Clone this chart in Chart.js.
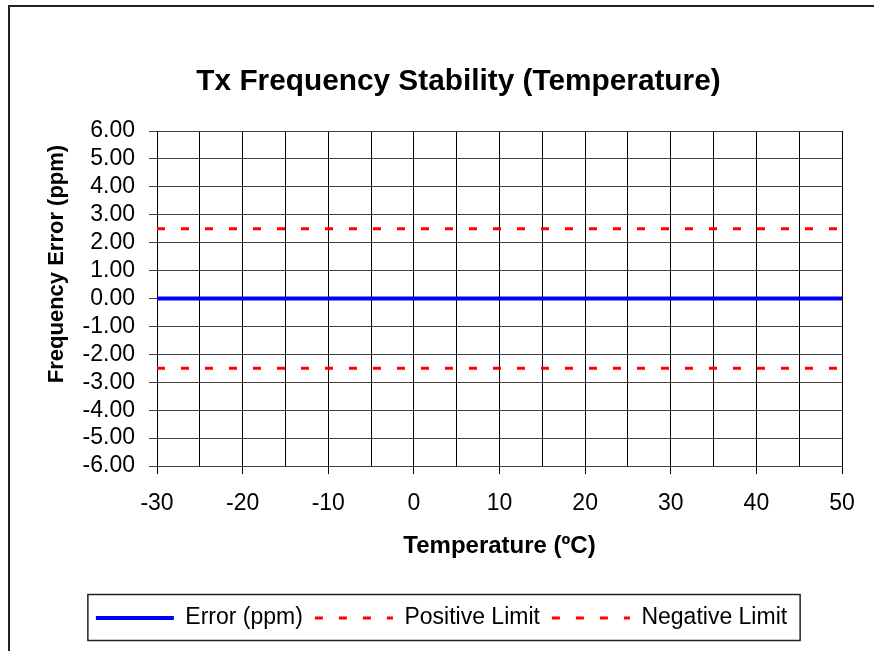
<!DOCTYPE html>
<html>
<head>
<meta charset="utf-8">
<script src="https://cdn.jsdelivr.net/npm/chart.js@4/dist/chart.umd.min.js"></script>
<style>
  html, body { margin: 0; padding: 0; background: #fff; }
  #wrap { width: 874px; height: 651px; }
</style>
</head>
<body>
<div id="wrap"><canvas id="c" width="874" height="651"></canvas></div>
<script>
// Tx frequency stability vs temperature — flat error trace between +/- limits.

const TEMPS = [-30, -20, -10, 0, 10, 20, 30, 40, 50];
const ERROR_PPM = [0, 0, 0, 0, 0, 0, 0, 0, 0];
const POS_LIMIT = [2.5, 2.5, 2.5, 2.5, 2.5, 2.5, 2.5, 2.5, 2.5];
const NEG_LIMIT = [-2.5, -2.5, -2.5, -2.5, -2.5, -2.5, -2.5, -2.5, -2.5];
const SERIES_NAMES = ['Error (ppm)', 'Positive Limit', 'Negative Limit'];

const TITLE = 'Tx Frequency Stability (Temperature)';
const X_TITLE = 'Temperature (\u00BAC)';
const Y_TITLE = 'Frequency Error (ppm)';

const FONT = "'Liberation Sans', Arial, sans-serif";
Chart.defaults.font.family = FONT;
Chart.defaults.color = '#000';

const pts = vals => TEMPS.map((t, i) => ({ x: t, y: vals[i] }));

// frame, chart title, rotated y title and the legend box
const decor = {
  id: 'decor',
  beforeDraw(chart) {
    const { ctx } = chart;
    ctx.save();
    ctx.fillStyle = '#fff';
    ctx.fillRect(0, 0, chart.width, chart.height);
    ctx.strokeStyle = '#222';
    ctx.lineWidth = 2;
    ctx.strokeRect(9, 6, 920, 700);
    ctx.restore();
  },
  afterDraw(chart) {
    const { ctx } = chart;
    ctx.save();
    ctx.fillStyle = '#000';
    ctx.textAlign = 'center';
    ctx.textBaseline = 'middle';
    ctx.font = 'bold 29.8px ' + FONT;
    ctx.fillText(TITLE, 458.5, 82);

    ctx.translate(57, 264);
    ctx.rotate(-Math.PI / 2);
    ctx.font = 'bold 22px ' + FONT;
    ctx.fillText(Y_TITLE, 0, 0);
    ctx.restore();

    const lg = chart.legend;
    const hb = lg.legendHitBoxes;
    if (hb && hb.length) {
      const last = hb[hb.length - 1];
      const x0 = hb[0].left - 8;
      const x1 = last.left + last.width + 13;
      ctx.save();
      ctx.strokeStyle = '#222';
      ctx.lineWidth = 1.5;
      ctx.strokeRect(x0, lg.top, x1 - x0, 46);
      ctx.restore();
    }
  }
};

new Chart(document.getElementById('c').getContext('2d'), {
  type: 'line',
  data: {
    datasets: [
      { label: SERIES_NAMES[0], data: pts(ERROR_PPM), borderColor: '#0000FF', borderWidth: 4, pointRadius: 0 },
      { label: SERIES_NAMES[1], data: pts(POS_LIMIT), borderColor: '#FF0000', borderWidth: 3, borderDash: [8, 16], pointRadius: 0 },
      { label: SERIES_NAMES[2], data: pts(NEG_LIMIT), borderColor: '#FF0000', borderWidth: 3, borderDash: [8, 16], pointRadius: 0 }
    ]
  },
  options: {
    responsive: false,
    animation: false,
    layout: { padding: { left: 41, right: 32, top: 131, bottom: 11.5 } },
    scales: {
      x: {
        type: 'linear',
        min: -30,
        max: 50,
        afterFit: s => { s.height = 128.5; },
        ticks: {
          stepSize: 5,
          autoSkip: false,
          maxRotation: 0,
          padding: 16,
          font: { size: 23 },
          callback: v => (v % 10 === 0 ? String(v) : '')
        },
        grid: {
          color: '#000',
          lineWidth: 1,
          tickLength: 8,
          tickColor: c => (c.tick && c.tick.value % 10 === 0 ? '#000' : 'rgba(0,0,0,0)')
        },
        border: { color: '#404040', width: 1 },
        title: { display: true, text: X_TITLE, font: { size: 24, weight: 'bold' }, padding: { top: 0, bottom: 34 } }
      },
      y: {
        min: -6,
        max: 6,
        afterFit: s => { s.width = 116; },
        ticks: {
          stepSize: 1,
          autoSkip: false,
          padding: 14,
          font: { size: 23 },
          callback: v => Number(v).toFixed(2)
        },
        grid: { color: '#404040', lineWidth: 1, tickLength: 8, tickColor: '#404040' },
        border: { color: '#000', width: 1 }
      }
    },
    plugins: {
      title: { display: false },
      tooltip: { enabled: false },
      legend: {
        position: 'bottom',
        labels: {
          usePointStyle: true,
          pointStyle: 'line',
          pointStyleWidth: 78,
          padding: 12,
          color: '#000',
          font: { size: 23 },
          generateLabels: chart => {
            const items = Chart.defaults.plugins.legend.labels.generateLabels(chart);
            items.forEach(it => {
              const ds = chart.data.datasets[it.datasetIndex];
              it.lineDash = ds.borderDash || [];
              it.lineWidth = ds.borderWidth;
              it.strokeStyle = ds.borderColor;
            });
            return items;
          }
        }
      }
    }
  },
  plugins: [decor]
});
</script>
</body>
</html>
